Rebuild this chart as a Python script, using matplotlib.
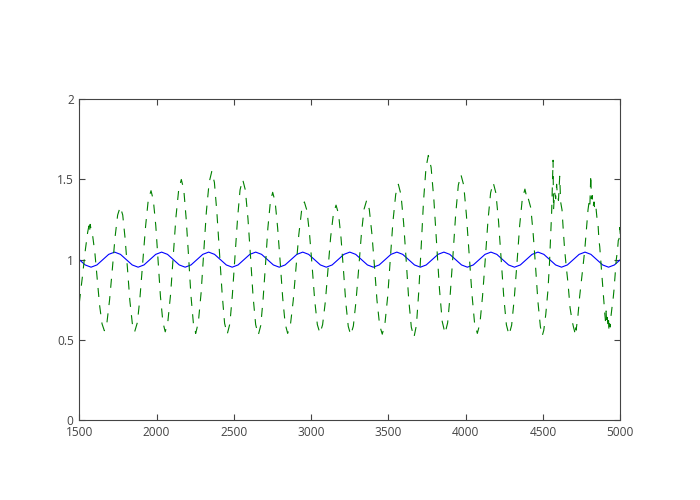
import matplotlib
matplotlib.use('Agg')
import matplotlib.pyplot as plt
import numpy as np

# ---------------- data ----------------
x_ticks = [1500, 2000, 2500, 3000, 3500, 4000, 4500, 5000]
x_tick_labels = ['1500', '2000', '2500', '3000', '3500', '4000', '4500', '5000']
y_ticks = [0, 0.5, 1, 1.5, 2]
y_tick_labels = ['0', '0.5', '1', '1.5', '2']

# blue series: sampled on an even grid from 1500 to 5000 (93 samples)
blue_x = np.linspace(1500, 5000, 93)
blue_y = [
    1.0, 0.967, 0.953, 0.967, 1.0, 1.033, 1.047, 1.033,
    1.0, 0.967, 0.953, 0.967, 1.0, 1.033, 1.047, 1.033,
    1.0, 0.967, 0.953, 0.967, 1.0, 1.033, 1.047, 1.033,
    1.0, 0.967, 0.953, 0.967, 1.0, 1.033, 1.047, 1.033,
    1.0, 0.967, 0.953, 0.967, 1.0, 1.033, 1.047, 1.033,
    1.0, 0.967, 0.953, 0.967, 1.0, 1.033, 1.047, 1.033,
    1.0, 0.967, 0.953, 0.967, 1.0, 1.033, 1.047, 1.033,
    1.0, 0.967, 0.953, 0.967, 1.0, 1.033, 1.047, 1.033,
    1.0, 0.967, 0.953, 0.967, 1.0, 1.033, 1.047, 1.033,
    1.0, 0.967, 0.953, 0.967, 1.0, 1.033, 1.047, 1.033,
    1.0, 0.967, 0.953, 0.967, 1.0, 1.033, 1.047, 1.033,
    1.0, 0.967, 0.953, 0.967, 1.0,
]

green_x = [
    1500, 1511, 1522, 1539, 1554, 1562, 1566, 1570, 1576, 1585, 1601, 1616, 1631, 1647, 1662,
    1679, 1696, 1714, 1731, 1748, 1765,
    1781, 1796, 1812, 1827, 1843, 1858,
    1876, 1893, 1911, 1929, 1946, 1964,
    1979, 1995, 2010, 2025, 2041, 2056,
    2073, 2091, 2108, 2125, 2143, 2160,
    2176, 2191, 2207, 2222, 2238, 2253,
    2270, 2288, 2305, 2322, 2340, 2357,
    2374, 2390, 2407, 2424, 2440, 2457,
    2474, 2490, 2507, 2524, 2540, 2557,
    2574, 2591, 2608, 2624, 2641, 2658,
    2674, 2689, 2705, 2720, 2736, 2751,
    2767, 2783, 2800, 2816, 2832, 2848,
    2866, 2884, 2902, 2920, 2938, 2956,
    2973, 2990, 3007, 3023, 3040, 3057,
    3074, 3092, 3109, 3126, 3144, 3161,
    3177, 3193, 3209, 3224, 3240, 3256,
    3273, 3290, 3308, 3325, 3342, 3359,
    3376, 3393, 3410, 3426, 3443, 3460,
    3477, 3495, 3512, 3529, 3547, 3564,
    3581, 3598, 3615, 3631, 3648, 3665,
    3681, 3696, 3712, 3727, 3743, 3758,
    3776, 3794, 3812, 3830, 3848, 3866,
    3883, 3900, 3918, 3935, 3952, 3969,
    3987, 4004, 4022, 4040, 4057, 4075,
    4092, 4109, 4127, 4144, 4161, 4178,
    4195, 4212, 4229, 4246, 4263, 4280,
    4297, 4314, 4332, 4349, 4366, 4383,
    4390, 4397, 4405,
    4421, 4436, 4452, 4467, 4483, 4495,
    4505, 4518, 4532, 4542, 4550, 4556, 4560, 4565, 4568, 4575, 4582, 4588, 4593, 4600,
    4608, 4614, 4623, 4630, 4640, 4651, 4662, 4675, 4688, 4697, 4705, 4710, 4714,
    4725, 4737, 4750, 4760, 4770, 4780, 4791, 4798, 4803, 4809, 4813, 4818, 4824, 4830,
    4836, 4843, 4850, 4856, 4862, 4867, 4877, 4888, 4895, 4900, 4904, 4908, 4912, 4916,
    4920, 4924, 4927, 4931, 4935, 4940, 4946, 4952, 4959, 4966, 4974, 4982, 4987, 4992,
    4996, 5000,
]
green_y = [
    0.73, 0.82, 0.91, 1.06, 1.17, 1.21, 1.17, 1.22, 1.19, 1.16, 1.04, 0.878, 0.718, 0.60, 0.557,
    0.609, 0.750, 0.944, 1.137, 1.278, 1.33,
    1.278, 1.135, 0.94, 0.745, 0.602, 0.55,
    0.609, 0.77, 0.99, 1.21, 1.371, 1.43,
    1.371, 1.21, 0.99, 0.77, 0.609, 0.55,
    0.614, 0.788, 1.025, 1.263, 1.436, 1.50,
    1.436, 1.26, 1.02, 0.78, 0.604, 0.54,
    0.608, 0.793, 1.045, 1.298, 1.482, 1.55,
    1.482, 1.296, 1.043, 0.789, 0.603, 0.535,
    0.600, 0.776, 1.018, 1.259, 1.435, 1.50,
    1.435, 1.258, 1.015, 0.773, 0.595, 0.53,
    0.59, 0.753, 0.975, 1.198, 1.36, 1.42,
    1.361, 1.20, 0.98, 0.76, 0.599, 0.54,
    0.595, 0.745, 0.95, 1.155, 1.305, 1.36,
    1.305, 1.155, 0.95, 0.745, 0.595, 0.54,
    0.594, 0.74, 0.94, 1.14, 1.286, 1.34,
    1.286, 1.138, 0.935, 0.733, 0.584, 0.53,
    0.586, 0.74, 0.95, 1.16, 1.314, 1.37,
    1.314, 1.161, 0.953, 0.744, 0.591, 0.535,
    0.598, 0.769, 1.003, 1.236, 1.407, 1.47,
    1.406, 1.231, 0.993, 0.754, 0.579, 0.515,
    0.591, 0.799, 1.083, 1.366, 1.574, 1.65,
    1.576, 1.373, 1.095, 0.818, 0.614, 0.54,
    0.606, 0.788, 1.035, 1.283, 1.464, 1.53,
    1.464, 1.283, 1.035, 0.788, 0.606, 0.54,
    0.603, 0.775, 1.01, 1.245, 1.417, 1.48,
    1.416, 1.243, 1.005, 0.768, 0.594, 0.53,
    0.591, 0.758, 0.985, 1.213, 1.379, 1.44,
    1.41, 1.42, 1.38,
    1.323, 1.166, 0.953, 0.739, 0.582, 0.525,
    0.56, 0.66, 0.81, 0.98, 1.16, 1.30, 1.45, 1.62, 1.31, 1.42, 1.38, 1.47, 1.40, 1.37,
    1.52, 1.36, 1.31, 1.20, 1.06, 0.95, 0.85, 0.70, 0.62, 0.58, 0.55, 0.59, 0.56,
    0.64, 0.77, 0.88, 0.97, 1.06, 1.18, 1.31, 1.36, 1.33, 1.53, 1.38, 1.40, 1.33, 1.36,
    1.30, 1.32, 1.25, 1.22, 1.12, 1.08, 0.95, 0.81, 0.72, 0.66, 0.62, 0.68, 0.60, 0.64,
    0.58, 0.62, 0.55, 0.60, 0.58, 0.65, 0.70, 0.74, 0.81, 0.90, 1.00, 1.06, 1.12, 1.13,
    1.20, 1.16,
]

# ---------------- style ----------------
plt.rcParams['font.family'] = ['Open Sans', 'DejaVu Sans']
plt.rcParams['lines.scale_dashes'] = False

fig = plt.figure(figsize=(7, 5), dpi=100)
ax = fig.add_axes([79.3 / 700, 80 / 500, 541 / 700, 320.7 / 500])

ax.plot(blue_x, blue_y, color='#0000ff', lw=0.8)
ax.plot(green_x, green_y, color='#008000', lw=0.8, linestyle=(0, (6.5, 6.0)))

ax.set_xlim(1500, 5000)
ax.set_ylim(0, 2)
ax.set_xticks(x_ticks)
ax.set_xticklabels(x_tick_labels)
ax.set_yticks(y_ticks)
ax.set_yticklabels(y_tick_labels)

ax.tick_params(direction='in', top=True, right=True, length=4, width=0.8,
               color='#444444', labelcolor='#444444', labelsize=8.6, pad=4)
for s in ax.spines.values():
    s.set_color('#444444')
    s.set_linewidth(0.8)

fig.savefig('out.png', dpi=100)
